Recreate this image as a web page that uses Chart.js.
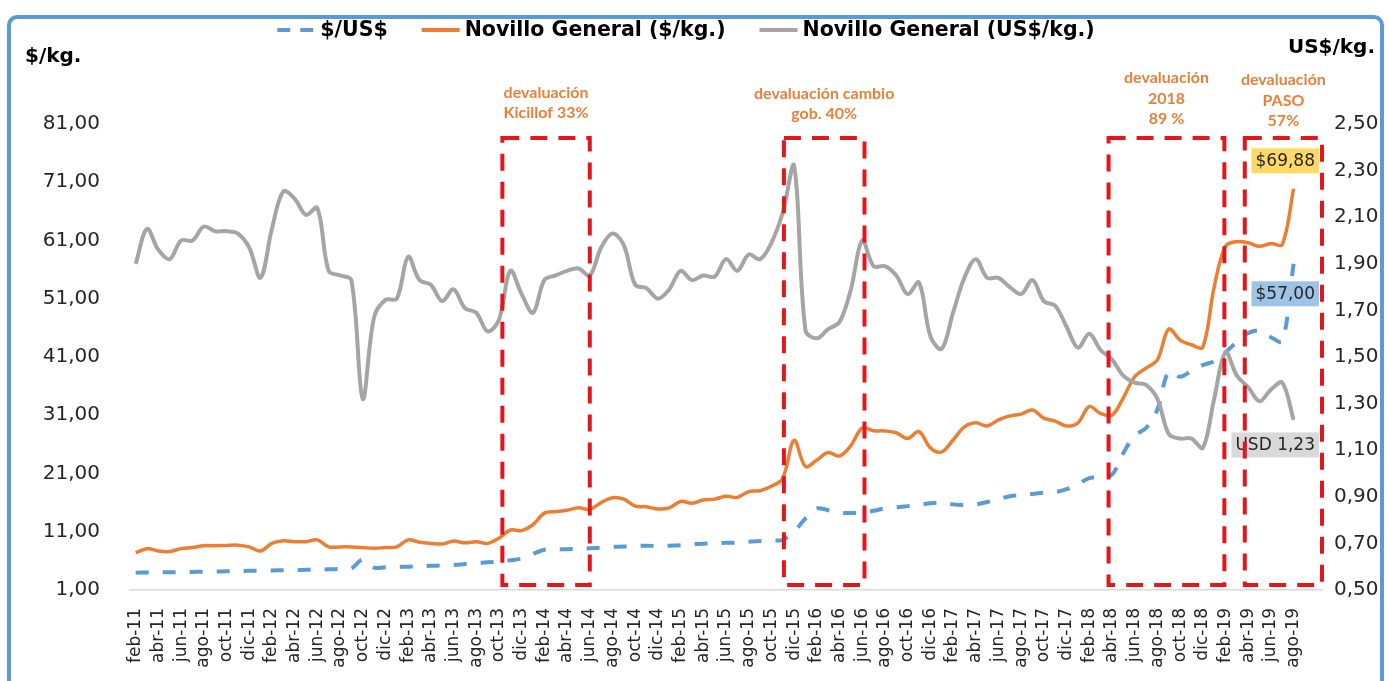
<!DOCTYPE html>
<html>
<head>
<meta charset="utf-8">
<script src="https://cdn.jsdelivr.net/npm/chart.js@4/dist/chart.umd.min.js"></script>
<style>
  body { margin: 0; background: #fff; }
  #wrap { width: 1389px; height: 681px; }
</style>
</head>
<body>
<div id="wrap"><canvas id="chart" width="1389" height="681"></canvas></div>
<script>
// meses (los dos ultimos sin dato, solo para dejar aire a la derecha)
const MESES = [
  'feb-11','mar-11','abr-11','may-11','jun-11','jul-11','ago-11','sep-11','oct-11','nov-11','dic-11',
  'ene-12','feb-12','mar-12','abr-12','may-12','jun-12','jul-12','ago-12','sep-12','oct-12','nov-12','dic-12',
  'ene-13','feb-13','mar-13','abr-13','may-13','jun-13','jul-13','ago-13','sep-13','oct-13','nov-13','dic-13',
  'ene-14','feb-14','mar-14','abr-14','may-14','jun-14','jul-14','ago-14','sep-14','oct-14','nov-14','dic-14',
  'ene-15','feb-15','mar-15','abr-15','may-15','jun-15','jul-15','ago-15','sep-15','oct-15','nov-15','dic-15',
  'ene-16','feb-16','mar-16','abr-16','may-16','jun-16','jul-16','ago-16','sep-16','oct-16','nov-16','dic-16',
  'ene-17','feb-17','mar-17','abr-17','may-17','jun-17','jul-17','ago-17','sep-17','oct-17','nov-17','dic-17',
  'ene-18','feb-18','mar-18','abr-18','may-18','jun-18','jul-18','ago-18','sep-18','oct-18','nov-18','dic-18',
  'ene-19','feb-19','mar-19','abr-19','may-19','jun-19','jul-19','ago-19','sep-19','oct-19'
];

// $/US$
const DOLAR = [
  3.97, 4.0, 4.02, 4.05, 4.07, 4.1, 4.13, 4.17, 4.2, 4.25, 4.3,
  4.32, 4.36, 4.4, 4.43, 4.46, 4.5, 4.55, 4.6, 4.7, 6.2, 4.85, 4.9,
  4.95, 5.0, 5.05, 5.15, 5.2, 5.3, 5.45, 5.6, 5.75, 5.9, 6.1, 6.4,
  7.2, 7.9, 7.95, 8.0, 8.05, 8.15, 8.25, 8.4, 8.45, 8.55, 8.6, 8.55,
  8.6, 8.7, 8.85, 8.95, 9.0, 9.1, 9.15, 9.3, 9.4, 9.5, 9.6, 11.0,
  13.3, 15.0, 14.7, 14.3, 14.2, 14.3, 14.6, 15.0, 15.2, 15.4, 15.6, 15.9,
  16.0, 15.7, 15.6, 15.7, 16.1, 16.6, 17.1, 17.3, 17.5, 17.7, 17.8, 18.3,
  19.2, 20.2, 20.5, 20.8, 24.5, 27.5, 28.8, 32.0, 38.5, 37.6, 38.6, 39.6,
  40.3, 41.8, 43.6, 45.1, 45.5, 44.4, 43.7, 57.0
];

// Novillo General $/kg.
const NOVILLO_ARS = [
  7.4, 8.1, 7.7, 7.6, 8.1, 8.3, 8.6, 8.6, 8.65, 8.7, 8.4,
  7.7, 9.0, 9.45, 9.3, 9.3, 9.6, 8.4, 8.4, 8.4, 8.3, 8.15, 8.3,
  8.4, 9.6, 9.2, 9.0, 8.9, 9.4, 9.1, 9.3, 9.0, 9.9, 11.3, 11.2,
  12.2, 14.2, 14.45, 14.7, 15.1, 14.85, 16.0, 16.85, 16.6, 15.4, 15.3, 14.9,
  15.1, 16.2, 15.9, 16.45, 16.6, 17.1, 16.9, 17.9, 18.05, 18.8, 20.2, 26.7,
  22.2, 23.3, 24.6, 24.0, 25.8, 28.8, 28.35, 28.3, 28.0, 27.0, 28.2, 25.4,
  24.7, 26.75, 29.0, 29.7, 29.15, 30.2, 30.9, 31.2, 31.9, 30.5, 30.0, 29.15,
  29.7, 32.5, 31.3, 31.0, 34.0, 37.6, 39.1, 40.5, 45.8, 43.9, 43.1, 42.7,
  53.0, 60.0, 60.8, 60.6, 60.0, 60.5, 60.3, 69.88
];

// Novillo General US$/kg.
const NOVILLO_USD = [
  1.90, 2.05, 1.96, 1.92, 2.00, 2.00, 2.06, 2.04, 2.04, 2.03, 1.97,
  1.84, 2.05, 2.21, 2.18, 2.11, 2.14, 1.87, 1.85, 1.83, 1.32, 1.67, 1.745,
  1.75, 1.93, 1.83, 1.81, 1.74, 1.79, 1.71, 1.69, 1.61, 1.66, 1.87, 1.77,
  1.69, 1.83, 1.85, 1.87, 1.88, 1.85, 1.97, 2.03, 1.98, 1.81, 1.795, 1.75,
  1.79, 1.87, 1.83, 1.85, 1.845, 1.92, 1.87, 1.94, 1.92, 1.99, 2.12, 2.32,
  1.615, 1.58, 1.62, 1.65, 1.79, 2.00, 1.89, 1.89, 1.85, 1.77, 1.82, 1.59,
  1.535, 1.69, 1.84, 1.92, 1.84, 1.84, 1.80, 1.77, 1.83, 1.74, 1.72, 1.63,
  1.54, 1.60, 1.53, 1.49, 1.42, 1.39, 1.38, 1.32, 1.17, 1.15, 1.15, 1.11,
  1.32, 1.52, 1.42, 1.37, 1.31, 1.36, 1.39, 1.23
];

// escalas
const EJE_ARS = { min: 1, max: 81, paso: 10 };
const EJE_USD = { min: 0.5, max: 2.5, paso: 0.2 };

// periodos de devaluacion (en indice de mes y $/kg. del eje izquierdo)
const periodos = [
  { texto: ['devaluación', 'Kicillof 33%'], desde: 32.3, hasta: 40.0, ult: -11 },
  { texto: ['devaluación cambio', 'gob. 40%'], desde: 57.1, hasta: 64.2, ult: -10 },
  { texto: ['devaluación', '2018', '89 %'], desde: 85.7, hasta: 95.9, ult: -5 },
  { texto: ['devaluación', 'PASO', '57%'], desde: 97.7, hasta: 104.5, ult: -3 }
];
const CAJA_Y = [78.6, 1.86];

const coma = (v, d) => v.toFixed(d).replace('.', ',');
const FUENTE = "'DejaVu Sans', sans-serif";

const etiquetas = [
  { ds: 1, fondo: '#FFD966', pre: '$', dy: -28 },
  { ds: 0, fondo: '#9DC3E6', pre: '$', dy: 30 },
  { ds: 2, fondo: '#D9D9D9', pre: 'USD ', dy: 25 }
];

const extras = {
  id: 'extras',
  afterDatasetsDraw(chart) {
    const { ctx, chartArea: area, scales } = chart;
    const x = scales.x, y = scales.y;

    // etiquetas del ultimo valor
    ctx.save();
    ctx.font = '17px ' + FUENTE;
    ctx.textBaseline = 'middle';
    ctx.textAlign = 'center';
    etiquetas.forEach(e => {
      const data = chart.data.datasets[e.ds].data;
      const pt = chart.getDatasetMeta(e.ds).data[data.length - 1];
      const txt = e.pre + coma(data[data.length - 1], 2);
      const w = ctx.measureText(txt).width + 8;
      const cx = area.right - 3 - w / 2;
      const cy = pt.y + e.dy;
      ctx.fillStyle = e.fondo;
      ctx.fillRect(cx - w / 2, cy - 12.5, w, 25);
      ctx.fillStyle = '#262626';
      ctx.fillText(txt, cx, cy + 1);
    });
    ctx.restore();

    // cajas punteadas
    ctx.save();
    ctx.strokeStyle = '#E3161B';
    ctx.lineWidth = 4;
    ctx.setLineDash([17, 11]);
    const yTop = y.getPixelForValue(CAJA_Y[0]);
    const yBot = y.getPixelForValue(CAJA_Y[1]);
    periodos.forEach(p => {
      const x1 = x.getPixelForValue(p.desde);
      const x2 = x.getPixelForValue(p.hasta);
      ctx.strokeRect(x1, yTop, x2 - x1, yBot - yTop);

      ctx.save();
      ctx.setLineDash([]);
      ctx.fillStyle = '#E8803A';
      ctx.font = "bold 16px 'Lato', sans-serif";
      ctx.textAlign = 'center';
      ctx.textBaseline = 'middle';
      const n = p.texto.length;
      p.texto.forEach((t, i) => {
        ctx.fillText(t, (x1 + x2) / 2, area.top + p.ult - (n - 1 - i) * 20.5);
      });
      ctx.restore();
    });
    ctx.restore();
  },
  afterDraw(chart) {
    const { ctx } = chart;
    ctx.save();

    // leyenda
    ctx.font = 'bold 20.5px ' + FUENTE;
    ctx.textBaseline = 'middle';
    ctx.textAlign = 'left';
    const items = [0, 1, 2].map(i => chart.data.datasets[i]);
    const muestra = 38, sep = 5, entre = 34;
    const anchos = items.map(d => muestra + sep + ctx.measureText(d.label).width);
    let lx = 686 - (anchos.reduce((a, b) => a + b, 0) + entre * 2) / 2;
    const ly = 30;
    items.forEach((d, i) => {
      ctx.save();
      ctx.strokeStyle = d.borderColor;
      ctx.lineWidth = 4;
      ctx.setLineDash(d.borderDash ? [13, 10] : []);
      ctx.beginPath();
      ctx.moveTo(lx, ly);
      ctx.lineTo(lx + muestra, ly);
      ctx.stroke();
      ctx.restore();
      ctx.fillStyle = '#000';
      ctx.fillText(d.label, lx + muestra + sep, ly + 1);
      lx += anchos[i] + entre;
    });

    // titulos de ejes
    ctx.font = 'bold 20px ' + FUENTE;
    ctx.fillText('$/kg.', 25, 57);
    ctx.textAlign = 'right';
    ctx.fillText('US$/kg.', 1375, 48);

    // marco
    ctx.strokeStyle = '#5B9BD5';
    ctx.lineWidth = 4;
    ctx.beginPath();
    ctx.roundRect(9, 17, 1373, 720, 8);
    ctx.stroke();
    ctx.restore();
  }
};

new Chart(document.getElementById('chart'), {
  type: 'line',
  data: {
    labels: MESES,
    datasets: [
      {
        label: '$/US$',
        data: DOLAR,
        yAxisID: 'y',
        borderColor: '#5B9BD5',
        borderWidth: 4,
        borderDash: [13, 14],
        order: 2
      },
      {
        label: 'Novillo General ($/kg.)',
        data: NOVILLO_ARS,
        yAxisID: 'y',
        borderColor: '#ED7D31',
        borderWidth: 3.5,
        order: 1
      },
      {
        label: 'Novillo General (US$/kg.)',
        data: NOVILLO_USD,
        yAxisID: 'y2',
        borderColor: '#A5A5A5',
        borderWidth: 4,
        order: 0
      }
    ]
  },
  options: {
    responsive: false,
    animation: false,
    devicePixelRatio: 1,
    events: [],
    layout: { padding: { top: 124, left: 0, right: 0, bottom: 0 } },
    elements: {
      point: { radius: 0 },
      line: { tension: 0.35, borderCapStyle: 'butt', fill: false }
    },
    plugins: {
      legend: { display: false },
      tooltip: { enabled: false }
    },
    scales: {
      x: {
        type: 'category',
        offset: true,
        grid: { display: false },
        border: { display: true, color: '#D9D9D9', width: 1.5 },
        afterFit(s) { s.height = 91; },
        ticks: {
          autoSkip: false,
          minRotation: 90,
          maxRotation: 90,
          padding: 10,
          color: '#262626',
          font: { family: FUENTE, size: 17 },
          callback(val, i) {
            return (i % 2 === 0 && i < NOVILLO_ARS.length) ? this.getLabelForValue(val) : '';
          }
        }
      },
      y: {
        position: 'left',
        min: EJE_ARS.min,
        max: EJE_ARS.max,
        grid: { display: false },
        border: { display: false },
        afterFit(s) { s.width = 130; },
        ticks: {
          stepSize: EJE_ARS.paso,
          padding: 22,
          color: '#262626',
          font: { family: FUENTE, size: 20 },
          callback: v => coma(v, 2)
        }
      },
      y2: {
        position: 'right',
        min: EJE_USD.min,
        max: EJE_USD.max,
        grid: { display: false },
        border: { display: false },
        afterFit(s) { s.width = 67; },
        ticks: {
          stepSize: EJE_USD.paso,
          padding: 4,
          color: '#262626',
          font: { family: FUENTE, size: 20 },
          callback: v => coma(v, 2)
        }
      }
    }
  },
  plugins: [extras]
});
</script>
</body>
</html>
